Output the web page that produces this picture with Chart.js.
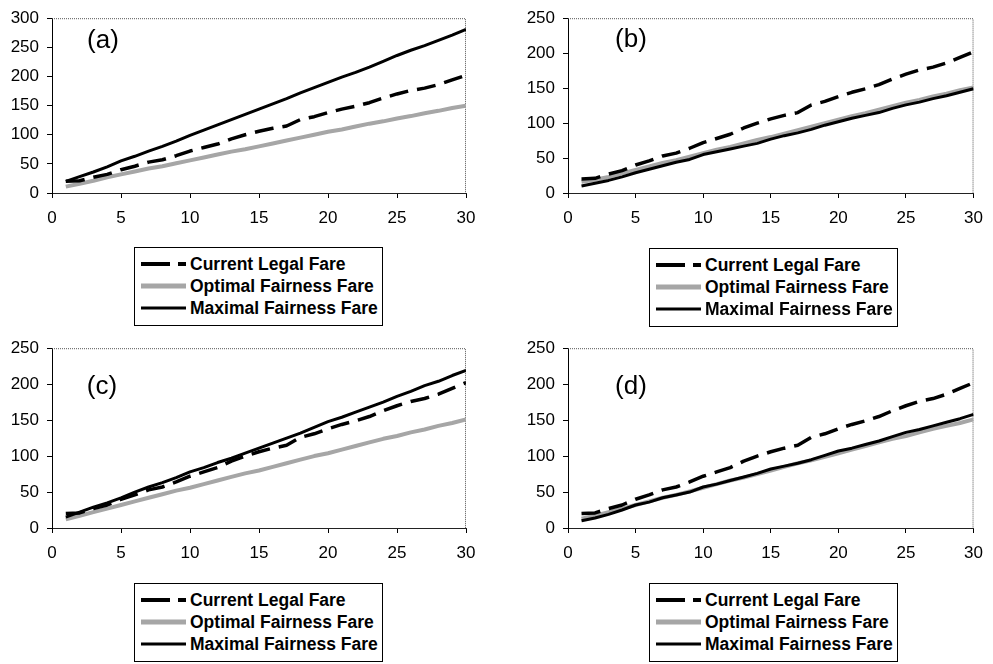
<!DOCTYPE html>
<html>
<head>
<meta charset="utf-8">
<script src="https://cdn.jsdelivr.net/npm/chart.js@4/dist/chart.umd.min.js"></script>
<style>
  html, body { margin: 0; padding: 0; background: #fff; }
  body { width: 993px; height: 664px; position: relative; overflow: hidden; font-family: "Liberation Sans", Arial, sans-serif; }
  canvas { position: absolute; }
  .plabel { position: absolute; font-size: 26px; color: #000; line-height: 1; transform: translate(-50%, -50%); white-space: nowrap; }
  .legend { position: absolute; width: 247px; height: 77px; border: 1px solid #000; background: #fff; box-sizing: content-box; }
  .row { position: absolute; left: 0; height: 22px; width: 247px; }
  .row svg { position: absolute; left: 6px; top: 6px; }
  .row span { position: absolute; left: 55px; top: 0; font-weight: bold; font-size: 17.5px; line-height: 22px; white-space: nowrap; color: #000; }
</style>
</head>
<body>
<canvas id="ca" width="496" height="240" style="left:0;top:0"></canvas>
<canvas id="cb" width="497" height="240" style="left:496px;top:0"></canvas>
<canvas id="cc" width="496" height="240" style="left:0;top:330px"></canvas>
<canvas id="cd" width="497" height="240" style="left:496px;top:330px"></canvas>

<div class="plabel" style="left:103px;top:39px">(a)</div>
<div class="plabel" style="left:631px;top:38px">(b)</div>
<div class="plabel" style="left:102px;top:385px">(c)</div>
<div class="plabel" style="left:631px;top:385px">(d)</div>

<div id="lega" class="legend" style="left:134px;top:247px"></div>
<div id="legb" class="legend" style="left:649px;top:248px"></div>
<div id="legc" class="legend" style="left:134px;top:583px"></div>
<div id="legd" class="legend" style="left:649px;top:583px"></div>

<script>
// ---- data ----
const distance = [1,2,3,4,5,6,7,8,9,10,11,12,13,14,15,16,17,18,19,20,21,22,23,24,25,26,27,28,29,30];
const seriesNames = ["Current Legal Fare", "Optimal Fairness Fare", "Maximal Fairness Fare"];
const xTicks = [0,5,10,15,20,25,30];

const currentLegal = [20,21,27,32,40,46,53,57,64,72,78,84,93,100,106,111,115,126,131,138,144,149,155,163,170,176,180,186,194,202];

const optimalA = [11,16,21,27,32,37,42,46,51,56,61,66,71,75,80,85,90,95,100,105,109,114,119,123,128,132,137,141,146,150];
const maximalA = [20,28,36,45,55,63,72,80,89,99,108,117,126,135,144,153,162,172,181,190,199,207,216,226,236,245,253,262,271,281];

const optimalB = [16,19,23,28,33,38,43,47,52,57,62,66,71,76,80,85,90,95,100,105,110,114,119,124,129,133,138,142,147,151];
const maximalB = [10,14,18,23,29,34,39,44,48,55,59,63,67,71,77,82,86,91,97,102,107,111,115,121,126,130,135,139,144,149];

const optimalC = [12,17,22,27,32,37,42,47,52,56,61,66,71,76,80,85,90,95,100,104,109,114,119,124,128,133,137,142,146,151];
const maximalC = [15,22,29,35,42,50,57,63,70,78,84,91,97,104,111,118,125,132,140,148,154,161,168,175,183,190,198,204,212,219];

const optimalD = [13,17,22,27,32,37,42,46,51,56,61,66,70,75,80,85,90,94,99,104,109,114,119,124,128,133,138,142,146,151];
const maximalD = [10,14,19,25,32,36,42,46,50,57,61,66,71,76,82,86,90,95,101,107,111,116,121,127,133,137,142,147,152,158];

const yMaxA = 300, yMaxOther = 250, yStep = 50, xStep = 5;

// ---- styles ----
const FONT = "'Liberation Sans', Arial, sans-serif";
const styles = {
  current: { color: '#000', width: 3.5, dash: [19, 9] },
  optimal: { color: '#a6a6a6', width: 4, dash: [] },
  maximal: { color: '#000', width: 3, dash: [] }
};

const borderPlugin = {
  id: 'plotBorder',
  beforeDatasetsDraw(chart) {
    const a = chart.chartArea, ctx = chart.ctx;
    ctx.save();
    ctx.strokeStyle = '#555';
    ctx.lineWidth = 1;
    ctx.setLineDash([1, 1]);
    ctx.beginPath();
    ctx.moveTo(a.left, a.top + 0.5);
    ctx.lineTo(a.right - 0.5, a.top + 0.5);
    ctx.lineTo(a.right - 0.5, a.bottom);
    ctx.stroke();
    ctx.restore();
  }
};

function ds(label, data, st, order) {
  return {
    label, data: distance.map((x, i) => ({ x, y: data[i] })),
    borderColor: st.color, backgroundColor: st.color, borderWidth: st.width,
    borderDash: st.dash, pointRadius: 0, tension: 0, fill: false, order,
    borderCapStyle: 'butt', borderJoinStyle: 'round'
  };
}

function makeChart(id, yMax, opt, max, lay) {
  new Chart(document.getElementById(id), {
    type: 'line',
    data: {
      datasets: [
        ds(seriesNames[0], currentLegal, styles.current, 0),
        ds(seriesNames[2], max, styles.maximal, 1),
        ds(seriesNames[1], opt, styles.optimal, 2)
      ]
    },
    options: {
      responsive: false, animation: false, devicePixelRatio: 1,
      layout: { padding: { top: lay.top, right: lay.right, left: 0, bottom: 0 } },
      plugins: { legend: { display: false }, tooltip: { enabled: false } },
      scales: {
        x: {
          type: 'linear', min: 0, max: 30,
          afterBuildTicks: s => { s.ticks = xTicks.map(v => ({ value: v })); },
          ticks: { color: '#000', font: { family: FONT, size: 17 }, padding: 10, maxRotation: 0, autoSkip: false },
          grid: { display: true, drawOnChartArea: false, drawTicks: true, tickLength: 5, color: '#000' },
          border: { display: true, color: '#222', width: 1 },
          afterFit: s => { s.height = lay.xh; }
        },
        y: {
          type: 'linear', min: 0, max: yMax,
          ticks: { stepSize: yStep, color: '#000', font: { family: FONT, size: 17 }, padding: 8 },
          grid: { display: true, drawOnChartArea: false, drawTicks: true, tickLength: 5, color: '#000' },
          border: { display: true, color: '#000', width: 1 },
          afterFit: s => { s.width = lay.yw; }
        }
      }
    },
    plugins: [borderPlugin]
  });
}

// chart areas: (a) L52 R466 T13 B193 ; (b) L568 R980 ; (c)/(d) T348 B528
makeChart('ca', yMaxA, optimalA, maximalA, { top: 13, right: 30, xh: 47, yw: 52 });
makeChart('cb', yMaxOther, optimalB, maximalB, { top: 13, right: 13, xh: 47, yw: 72 });
makeChart('cc', yMaxOther, optimalC, maximalC, { top: 18, right: 30, xh: 42, yw: 52 });
makeChart('cd', yMaxOther, optimalD, maximalD, { top: 18, right: 13, xh: 42, yw: 72 });

// ---- legends ----
function legendSvg(key) {
  if (key === 0) return '<svg width="45" height="10"><line x1="0" y1="5" x2="45" y2="5" stroke="#000" stroke-width="4" stroke-dasharray="29,8"/></svg>';
  if (key === 1) return '<svg width="45" height="10"><line x1="0" y1="5" x2="45" y2="5" stroke="#a6a6a6" stroke-width="5"/></svg>';
  return '<svg width="45" height="10"><line x1="0" y1="5" x2="45" y2="5" stroke="#000" stroke-width="3"/></svg>';
}
['lega','legb','legc','legd'].forEach(id => {
  const el = document.getElementById(id);
  let html = '';
  seriesNames.forEach((n, i) => {
    html += '<div class="row" style="top:' + (5 + i * 22) + 'px">' + legendSvg(i) + '<span>' + n + '</span></div>';
  });
  el.innerHTML = html;
});
</script>
</body>
</html>
